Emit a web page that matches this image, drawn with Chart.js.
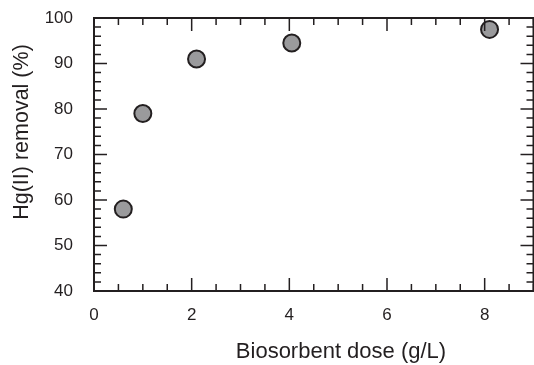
<!DOCTYPE html>
<html>
<head>
<meta charset="utf-8">
<script src="https://cdn.jsdelivr.net/npm/chart.js@4.4.1/dist/chart.umd.min.js"></script>
<style>
  html, body { margin: 0; padding: 0; background: #fff; }
  #wrap { width: 534px; height: 365px; position: relative; }
</style>
</head>
<body>
<div id="wrap"><canvas id="chart"></canvas></div>
<script>
// data
const doses = [0.6, 1.0, 2.1, 4.05, 8.1];
const removal = [58, 79, 91, 94.5, 97.5];
const xTicks = [0, 2, 4, 6, 8];
const yTicks = [40, 50, 60, 70, 80, 90, 100];
const xTitle = 'Biosorbent dose (g/L)';
const yTitle = 'Hg(II) removal (%)';

const ink = '#231f20';
const font = 'Liberation Sans, Arial, sans-serif';

// frame + inward ticks on all four sides
const framePlugin = {
    id: 'frame',
    afterDatasetsDraw(chart) {
        const ctx = chart.ctx;
        const a = chart.chartArea;
        const xs = chart.scales.x;
        const ys = chart.scales.y;
        ctx.save();
        ctx.strokeStyle = ink;
        ctx.lineWidth = 1.5;
        // minor/major x ticks
        for (let v = 0; v <= 9.001; v += 0.5) {
            const px = xs.getPixelForValue(v);
            const len = (Math.abs(v % 2) < 0.01) ? 13 : 7;
            ctx.beginPath();
            ctx.moveTo(px, a.bottom); ctx.lineTo(px, a.bottom - len);
            ctx.moveTo(px, a.top); ctx.lineTo(px, a.top + len);
            ctx.stroke();
        }
        for (let v = 40; v <= 100.001; v += 2) {
            const py = ys.getPixelForValue(v);
            const len = (v % 10 === 0) ? 13 : 7;
            ctx.beginPath();
            ctx.moveTo(a.left, py); ctx.lineTo(a.left + len, py);
            ctx.moveTo(a.right, py); ctx.lineTo(a.right - len, py);
            ctx.stroke();
        }
        ctx.lineWidth = 2;
        ctx.strokeRect(a.left, a.top, a.right - a.left, a.bottom - a.top);

        // axis titles
        ctx.fillStyle = ink;
        ctx.textAlign = 'center';
        ctx.textBaseline = 'middle';
        ctx.font = '22px ' + font;
        ctx.fillText(xTitle, 341, 352);
        ctx.font = '21.5px ' + font;
        ctx.translate(22, 132);
        ctx.rotate(-Math.PI / 2);
        ctx.fillText(yTitle, 0, 0);
        ctx.restore();
    }
};

function noPad(s) {
    s.paddingTop = 0;
    s.paddingBottom = 0;
    s.paddingLeft = 0;
    s.paddingRight = 0;
}

new Chart(document.getElementById('chart'), {
    type: 'scatter',
    data: {
        datasets: [{
            data: doses.map((d, i) => ({ x: d, y: removal[i] })),
            backgroundColor: '#9a9a9c',
            borderColor: ink,
            borderWidth: 2,
            pointRadius: 8.5,
            pointHoverRadius: 8.5
        }]
    },
    options: {
        responsive: true,
        maintainAspectRatio: false,
        animation: false,
        layout: { autoPadding: false, padding: { top: 18, right: 0.5, left: 0, bottom: 0 } },
        plugins: { legend: { display: false }, tooltip: { enabled: false } },
        scales: {
            x: {
                type: 'linear',
                min: 0,
                max: 9,
                afterBuildTicks: s => { s.ticks = xTicks.map(v => ({ value: v })); },
                afterFit: s => { s.height = 74; noPad(s); },
                grid: { display: false, drawTicks: false },
                border: { display: false },
                ticks: { color: ink, font: { family: font, size: 17 }, padding: 14, maxRotation: 0 }
            },
            y: {
                min: 40,
                max: 100,
                afterBuildTicks: s => { s.ticks = yTicks.map(v => ({ value: v })); },
                afterFit: s => { s.width = 94; noPad(s); },
                grid: { display: false, drawTicks: false },
                border: { display: false },
                ticks: { color: ink, font: { family: font, size: 17 }, padding: 21 }
            }
        }
    },
    plugins: [framePlugin]
});
</script>
</body>
</html>
